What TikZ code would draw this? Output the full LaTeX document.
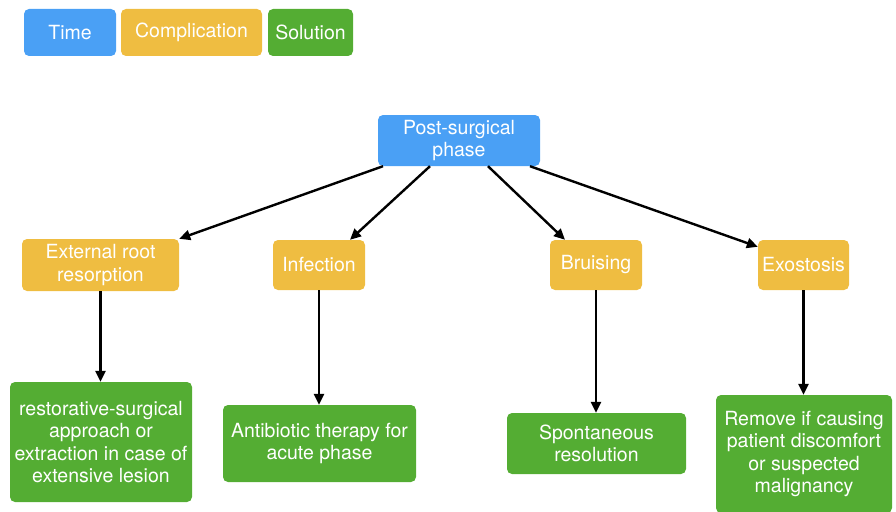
\documentclass[tikz,border=0pt]{standalone}
\usepackage{fontspec}
\setmainfont{TeX Gyre Heros}
\usetikzlibrary{
    arrows.meta,
    positioning,
    calc
}
\definecolor{timeblue}{RGB}{74,160,245}
\definecolor{complyellow}{RGB}{239,189,65}
\definecolor{solgreen}{RGB}{84,173,51}

\begin{document}
\begin{tikzpicture}[
    x=1pt, y=-1pt,
    box/.style={rectangle, rounded corners=5pt, inner sep=0pt, align=center,
                text=white, font=\fontsize{19.5}{22.5}\selectfont},
    timebox/.style={box, fill=timeblue},
    complbox/.style={box, fill=complyellow},
    solbox/.style={box, fill=solgreen},
    line/.style={line width=2.4pt, -{Triangle[length=11pt,width=10pt]}}
]

    \useasboundingbox (0,0) rectangle (896,511);

    % Legend
    \node (legtime) [timebox, minimum width=92pt, minimum height=47pt] at (70,32.5) {Time};
    \node (legcompl) [complbox, minimum width=141pt, minimum height=47pt] at (191.5,32.5) {Complication};
    \node (legsol) [solbox, minimum width=85pt, minimum height=47pt] at (310.5,32.5) {Solution};

    % Phase
    \node (post) [timebox, minimum width=162pt, minimum height=51pt] at (459,140.5) {Post-surgical\\phase};

    % Complications
    \node (resorp) [complbox, minimum width=157pt, minimum height=52pt] at (100.5,265) {External root\\resorption};
    \node (infect) [complbox, minimum width=92pt, minimum height=50pt] at (319,265) {Infection};
    \node (bruise) [complbox, minimum width=92pt, minimum height=50pt] at (596,265) {Bruising};
    \node (exost) [complbox, minimum width=91pt, minimum height=50pt] at (803.5,265) {Exostosis};

    % Solutions
    \node (restor) [solbox, minimum width=182pt, minimum height=120pt] at (101,442) {restorative-surgical\\approach or\\extraction in case of\\extensive lesion};
    \node (antib) [solbox, minimum width=193pt, minimum height=77pt] at (319.5,443.5) {Antibiotic therapy for\\acute phase};
    \node (spont) [solbox, minimum width=179pt, minimum height=61pt] at (596.5,443.5) {Spontaneous\\resolution};
    \node (remove) [solbox, minimum width=176pt, minimum height=118pt] at (804,454) {Remove if causing\\patient discomfort\\or suspected\\malignancy};

    % Connections
    \draw [line] ([xshift=-76pt]post.south) -- (resorp.north east);
    \draw [line] ([xshift=-29pt]post.south) -- ([xshift=31pt]infect.north);
    \draw [line] ([xshift=29pt]post.south) -- ([xshift=-31pt]bruise.north);
    \draw [line] ([xshift=71pt]post.south) -- ([yshift=-7pt]exost.north west);

    \draw [line] (resorp) -- (resorp |- restor.north);
    \draw [line] (infect) -- (infect |- antib.north);
    \draw [line] (bruise) -- (bruise |- spont.north);
    \draw [line] (exost) -- (exost |- remove.north);

\end{tikzpicture}
\end{document}
